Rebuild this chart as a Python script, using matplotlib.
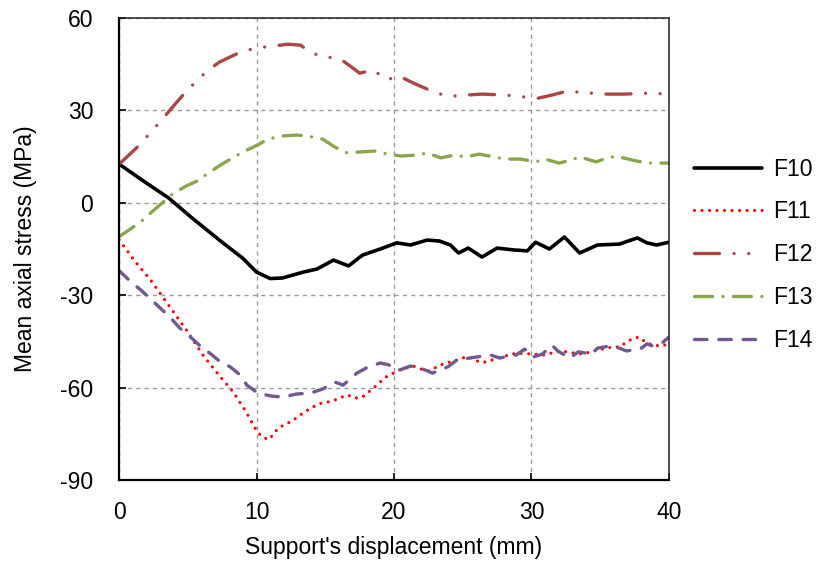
import matplotlib
matplotlib.use("Agg")
import matplotlib.pyplot as plt

plt.rcParams["font.family"] = ["Liberation Sans", "DejaVu Sans"]
plt.rcParams["lines.scale_dashes"] = False
plt.rcParams["axes.unicode_minus"] = False

# values
x_f10 = [0, 1.8, 3.6, 5.2, 7.3, 9.0, 10.0, 11.0, 11.9, 13.4, 14.4, 15.6, 16.7, 17.7, 19.0, 20.2, 21.2,
         22.4, 23.3, 24.1, 24.7, 25.4, 26.4, 27.5, 28.7, 29.7, 30.3, 31.3, 32.4, 33.5, 34.8, 36.4,
         37.7, 38.4, 39.1, 40.0]
y_f10 = [12.6, 7.0, 1.6, -4.5, -12.1, -18.0, -22.5, -24.6, -24.4, -22.5, -21.5, -18.6, -20.5, -17.0,
         -15.0, -13.0, -13.7, -12.1, -12.4, -13.7, -16.3, -14.7, -17.6, -14.7, -15.3, -15.6, -12.8,
         -15.0, -11.1, -16.3, -13.7, -13.4, -11.4, -13.0, -13.7, -12.8]

x_f11 = [0, 1.2, 2.3, 3.6, 4.9, 6.1, 7.2, 8.3, 9.2, 10.0, 10.4, 10.9, 11.6, 12.6, 13.5, 14.5, 15.5,
         16.6, 17.2, 17.7, 18.6, 19.4, 20.4, 21.4, 22.0, 22.5, 23.6, 24.6, 25.2, 25.7, 26.2, 26.7,
         27.8, 28.9, 30.0, 30.9, 32.1, 33.1, 33.7, 34.8, 35.9, 36.4, 37.3, 37.8, 38.3, 38.8, 39.4, 40.0]
y_f11 = [-12.0, -19.2, -25.1, -33.2, -41.3, -49.4, -55.6, -61.4, -67.6, -74.0, -76.0, -76.9, -73.1,
         -70.8, -67.9, -65.3, -64.4, -62.4, -63.4, -63.1, -59.8, -56.6, -54.3, -53.0, -54.0, -54.6,
         -52.3, -51.0, -50.1, -50.4, -51.7, -51.7, -50.1, -48.8, -49.1, -49.4, -48.1, -48.8, -49.1,
         -47.8, -46.8, -46.8, -44.2, -43.6, -45.2, -46.2, -46.5, -45.8]

x_f12 = [0, 1.5, 2.9, 4.9, 6.4, 7.3, 9.0, 10.1, 11.2, 12.3, 13.2, 14.0, 15.1, 16.1, 17.0, 17.5, 18.5,
         18.8, 19.5, 20.4, 21.4, 23.1, 24.1, 25.3, 26.4, 28.1, 29.4, 30.5, 31.5, 32.6, 33.3, 34.4,
         35.5, 36.7, 38.5, 40.0]
y_f12 = [12.5, 18.8, 25.9, 36.3, 42.8, 45.7, 49.3, 50.3, 50.9, 51.5, 51.2, 48.6, 47.4, 46.7, 43.8,
         42.1, 43.1, 42.1, 40.0, 41.1, 38.9, 35.6, 34.6, 35.0, 35.3, 35.0, 34.4, 34.0, 35.0, 36.3,
         36.0, 35.6, 35.3, 35.3, 35.6, 35.3]

x_f13 = [0, 0.8, 1.7, 2.5, 3.9, 4.9, 5.7, 6.5, 7.5, 9.0, 10.1, 10.8, 11.9, 12.9, 13.7, 14.8, 15.7,
         16.6, 17.5, 18.6, 19.5, 20.5, 21.7, 22.4, 23.4, 24.4, 25.2, 26.2, 27.3, 28.1, 29.2, 30.3,
         31.0, 32.0, 32.9, 33.5, 34.7, 35.7, 36.4, 37.6, 38.6, 40.0]
y_f13 = [-11.0, -8.6, -5.7, -2.5, 2.9, 5.5, 7.1, 9.7, 12.6, 16.5, 18.8, 20.7, 21.7, 22.0, 21.7, 20.7,
         18.1, 16.2, 16.5, 16.8, 15.8, 15.2, 15.5, 16.2, 14.6, 15.5, 14.9, 15.8, 14.9, 14.2, 14.2,
         13.3, 14.2, 12.9, 13.9, 14.9, 13.3, 14.9, 14.9, 13.6, 12.9, 12.9]

x_f14 = [0, 0.8, 1.5, 2.3, 3.0, 3.7, 4.4, 5.2, 5.9, 6.6, 7.3, 8.1, 8.8, 9.3, 10.1, 11.0, 11.9, 12.9,
         13.9, 14.8, 15.7, 16.3, 17.3, 18.0, 19.0, 19.6, 20.4, 21.2, 22.1, 22.8, 23.9, 24.6, 25.5,
         27.0, 27.7, 28.9, 29.5, 30.1, 30.8, 31.5, 31.9, 32.8, 33.4, 34.4, 34.8, 35.7, 36.4, 36.9,
         37.9, 38.4, 38.8, 39.5, 40.0]
y_f14 = [-22.0, -25.4, -28.0, -31.2, -34.2, -37.1, -40.6, -43.6, -46.5, -48.8, -51.4, -53.3, -55.9,
         -59.2, -61.8, -62.7, -63.1, -62.1, -61.8, -60.5, -58.2, -59.2, -55.3, -53.6, -52.0, -52.6,
         -54.3, -53.0, -54.0, -55.3, -53.3, -51.0, -50.4, -49.4, -50.4, -49.4, -47.5, -50.1, -49.1,
         -46.2, -48.1, -50.4, -48.4, -49.1, -47.2, -46.5, -47.2, -48.1, -47.5, -45.8, -46.5, -45.5,
         -43.6]

x_ticks = [0, 10, 20, 30, 40]
y_ticks = [-90, -60, -30, 0, 30, 60]

fs = 16.5

fig = plt.figure(figsize=(8.18, 5.64), dpi=100)
ax = fig.add_axes([0.1455, 0.149, 0.6723, 0.819])

ax.plot(x_f10, y_f10, color="black", lw=2.6, label="F10", solid_capstyle="round")
ax.plot(x_f11, y_f11, color="#FF0000", lw=2.3, dashes=(0.01, 5.4), dash_capstyle="round", label="F11")
ax.plot(x_f12, y_f12, color="#AA4643", lw=2.4, dashes=(18, 10.5, 0.01, 10.5, 0.01, 10.5),
        dash_capstyle="round", label="F12")
ax.plot(x_f13, y_f13, color="#89A54E", lw=2.4, dashes=(13, 7.5, 0.01, 7.5),
        dash_capstyle="round", label="F13")
ax.plot(x_f14, y_f14, color="#71588F", lw=2.4, dashes=(9, 8.5), dash_capstyle="round", label="F14")

ax.set_xlim(0, 40)
ax.set_ylim(-90, 60)
ax.set_xticks(x_ticks)
ax.set_yticks(y_ticks)
ax.grid(True, color="#9a9a9a", linestyle=(0, (3, 3)), linewidth=1)
ax.tick_params(direction="in", length=5, width=1.2, labelsize=fs, colors="black")
ax.tick_params(axis="y", pad=18.5)
ax.tick_params(axis="x", pad=15)
for side in ["left", "bottom"]:
    ax.spines[side].set_linewidth(1.6)
    ax.spines[side].set_color("black")
for side in ["top", "right"]:
    ax.spines[side].set_linewidth(1.1)
    ax.spines[side].set_color("#202020")

ax.set_xlabel("Support's displacement (mm)", fontsize=fs, labelpad=9)
ax.set_ylabel("Mean axial stress (MPa)", fontsize=fs, labelpad=17)

fig.legend(loc="center left", bbox_to_anchor=(0.848, 0.548), frameon=False, fontsize=fs,
           handlelength=3.0, handletextpad=0.45, labelspacing=0.87, borderpad=0, borderaxespad=0)

fig.savefig("out.png", dpi=100)
